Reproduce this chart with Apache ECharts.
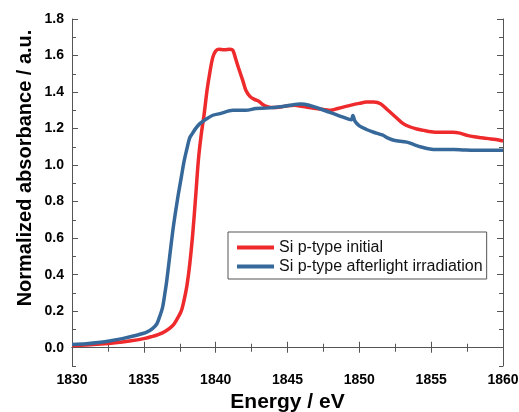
<!DOCTYPE html>
<html>
<head>
<meta charset="utf-8">
<script src="https://cdn.jsdelivr.net/npm/echarts@6/dist/echarts.min.js"></script>
<style>html,body{margin:0;padding:0;background:#fff;}#c{width:519px;height:412px;}</style>
</head>
<body>
<div id="c"></div>
<script>
const seriesNames = ['Si p-type initial', 'Si p-type afterlight irradiation'];
const initialEnergy = [1830,1831,1832,1833,1834,1835,1835.5,1836,1836.5,1837,1837.3,1837.6,1837.8,1838.0,1838.2,1838.4,1838.6,1838.8,1839.0,1839.2,1839.4,1839.6,1839.8,1840.0,1840.2,1840.6,1841.0,1841.2,1841.4,1841.6,1841.9,1842.1,1842.4,1842.7,1843.0,1843.3,1843.6,1844,1844.5,1845,1845.5,1846,1846.5,1847,1847.5,1848,1848.5,1849,1849.5,1850,1850.5,1851,1851.5,1852,1852.5,1853,1853.5,1854,1854.5,1855,1855.5,1856,1856.5,1857,1857.5,1858,1858.5,1859,1859.5,1860];
const initialValues = [0.012,0.015,0.02,0.027,0.037,0.05,0.06,0.072,0.09,0.12,0.155,0.2,0.26,0.34,0.46,0.62,0.82,1.03,1.17,1.28,1.41,1.51,1.59,1.625,1.635,1.632,1.635,1.628,1.58,1.53,1.46,1.41,1.375,1.36,1.35,1.33,1.32,1.315,1.318,1.325,1.328,1.322,1.315,1.31,1.305,1.30,1.31,1.32,1.33,1.338,1.345,1.345,1.335,1.30,1.265,1.23,1.21,1.198,1.19,1.183,1.18,1.18,1.18,1.175,1.163,1.155,1.15,1.145,1.14,1.132];
const afterEnergy = [1830,1831,1832,1832.6,1833.5,1834.5,1835.2,1835.6,1835.9,1836.1,1836.3,1836.45,1836.6,1836.8,1837.0,1837.2,1837.4,1837.6,1837.8,1838.0,1838.2,1838.4,1838.6,1838.9,1839.3,1839.8,1840.3,1841.2,1842.1,1842.8,1843.5,1844.5,1845.2,1845.9,1846.5,1847.2,1847.9,1848.6,1849.3,1849.45,1849.55,1849.7,1850.0,1850.5,1851,1851.6,1852.0,1852.4,1853.3,1853.8,1854.3,1854.8,1855.4,1856,1856.6,1857.2,1858,1859,1860];
const afterValues = [0.018,0.022,0.03,0.037,0.05,0.068,0.085,0.105,0.13,0.17,0.22,0.29,0.37,0.50,0.63,0.74,0.84,0.93,1.02,1.09,1.15,1.175,1.20,1.227,1.25,1.273,1.282,1.30,1.30,1.31,1.312,1.319,1.328,1.334,1.328,1.31,1.29,1.27,1.25,1.248,1.272,1.24,1.215,1.195,1.18,1.165,1.148,1.136,1.126,1.112,1.099,1.09,1.085,1.085,1.085,1.083,1.081,1.081,1.081];
const yMajorTicks = [0,0.2,0.4,0.6,0.8,1.0,1.2,1.4,1.6,1.8];
const yMinorTicks = [-0.1,0.1,0.3,0.5,0.7,0.9,1.1,1.3,1.5,1.7];
const xTitle = 'Energy / eV';
const yTitle = 'Normalized absorbance / a.u.';

const FONT = 'Liberation Sans, Arial, sans-serif';
const AX = '#555';
const pairs = (xs, ys) => xs.map((x, i) => [x, ys[i]]);

const chart = echarts.init(document.getElementById('c'), null, {renderer: 'canvas'});
const yBase = {type: 'value', min: -0.1, max: 1.8, splitLine: {show: false}};
const xBase = {type: 'value', min: 1830, max: 1860, interval: 5, splitLine: {show: false}};
chart.setOption({
  animation: false,
  backgroundColor: '#fff',
  grid: {left: 72, right: 16, top: 19, bottom: 46, containLabel: false, outerBoundsMode: 'none'},
  legend: {
    orient: 'vertical', left: 228, top: 232,
    padding: [6, 4, 3, 9], itemGap: 0,
    borderColor: '#555', borderWidth: 1,
    icon: 'rect', itemWidth: 37, itemHeight: 4,
    textStyle: {fontFamily: FONT, fontSize: 16, color: '#111', lineHeight: 19},
    data: seriesNames
  },
  xAxis: [
    Object.assign({}, xBase, {
      position: 'bottom',
      name: xTitle, nameLocation: 'middle', nameGap: 24,
      nameTextStyle: {fontFamily: FONT, fontSize: 21, fontWeight: 'bold', color: '#000'},
      axisLine: {show: true, lineStyle: {color: AX, width: 1}},
      axisTick: {show: true, inside: true, length: 6, lineStyle: {color: AX}},
      minorTick: {show: true, splitNumber: 2, length: 4, lineStyle: {color: AX}},
      axisLabel: {fontFamily: FONT, fontSize: 14, fontWeight: 'bold', color: '#000', margin: 7,
        formatter: v => String(v)}
    }),
    Object.assign({}, xBase, {
      position: 'top',
      axisLine: {show: true, lineStyle: {color: AX, width: 1}},
      axisTick: {show: true, inside: true, length: 5, lineStyle: {color: AX}},
      minorTick: {show: true, splitNumber: 2, length: 4, lineStyle: {color: AX}},
      axisLabel: {show: false}
    })
  ],
  yAxis: [
    Object.assign({}, yBase, {
      position: 'left',
      axisLine: {show: true, lineStyle: {color: AX, width: 1}},
      axisTick: {show: true, inside: true, length: 6, customValues: yMajorTicks, lineStyle: {color: AX}},
      axisLabel: {customValues: yMajorTicks, fontFamily: FONT, fontSize: 14, fontWeight: 'bold', color: '#000', margin: 8,
        formatter: v => v.toFixed(1)}
    }),
    Object.assign({}, yBase, {
      position: 'left',
      axisLine: {show: false},
      axisTick: {show: true, inside: true, length: 4, customValues: yMinorTicks, lineStyle: {color: AX}},
      axisLabel: {show: false}
    }),
    Object.assign({}, yBase, {
      position: 'right',
      axisLine: {show: true, lineStyle: {color: AX, width: 1}},
      axisTick: {show: true, inside: true, length: 6, customValues: yMajorTicks, lineStyle: {color: AX}},
      axisLabel: {show: false}
    }),
    Object.assign({}, yBase, {
      position: 'right',
      axisLine: {show: false},
      axisTick: {show: true, inside: true, length: 4, customValues: yMinorTicks, lineStyle: {color: AX}},
      axisLabel: {show: false}
    })
  ],
  graphic: [{
    type: 'text', x: 25, y: 168, rotation: Math.PI / 2,
    style: {text: yTitle, fontFamily: FONT, fontSize: 20, fontWeight: 'bold', fill: '#000',
      align: 'center', verticalAlign: 'middle'}
  }],
  series: [
    {name: seriesNames[0], type: 'line', data: pairs(initialEnergy, initialValues),
      showSymbol: false, symbol: 'none', smooth: 0.3, color: '#ee2a2c',
      lineStyle: {width: 3.5, color: '#ee2a2c'}, z: 3},
    {name: seriesNames[1], type: 'line', data: pairs(afterEnergy, afterValues),
      showSymbol: false, symbol: 'none', smooth: 0.3, color: '#36689a',
      lineStyle: {width: 3.5, color: '#36689a'}, z: 4}
  ]
});
</script>
</body>
</html>
